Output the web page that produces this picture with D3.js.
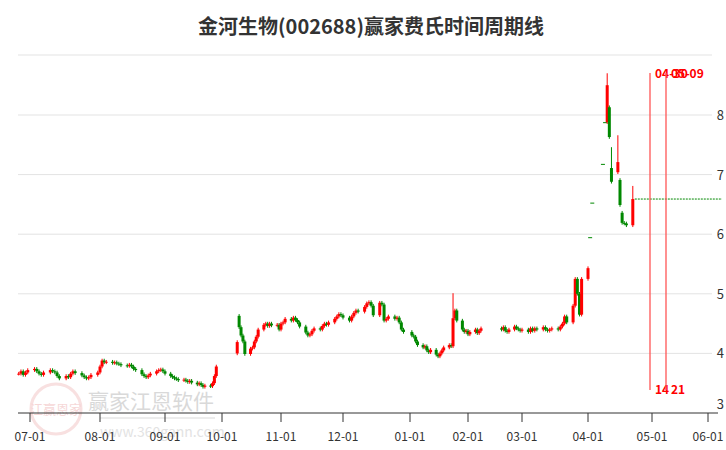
<!DOCTYPE html>
<html><head><meta charset="utf-8">
<script src="https://cdn.jsdelivr.net/npm/d3@7"></script>
<style>body{margin:0;background:#fff;font-family:"Noto Sans CJK SC","DejaVu Sans",sans-serif}</style>
</head><body>
<script>
// closes per month (trading days)
var closeJun = [3.66,3.70,3.64,3.68,3.72];
var closeJul = [3.74,3.70,3.66,3.64,3.68,3.72,3.70,3.68,3.62,3.58,3.62,3.60,3.66,3.70,3.67,3.63,3.60,3.58,3.60,3.64,3.68];
var closeAug = [3.78,3.88,3.85,3.86,3.84,3.85,3.83,3.82,3.80,3.79,3.81,3.78,3.74,3.72,3.65,3.62,3.60,3.63,3.66,3.70,3.72,3.73,3.70];
var closeSep = [3.66,3.62,3.60,3.58,3.57,3.55,3.56,3.54,3.52,3.54,3.51,3.48,3.50,3.47,3.44,3.46,3.45,3.50,3.62,3.78];
var closeOct = [4.19,4.44,4.30,4.20,3.99,4.08,4.10,4.20,4.28,4.40,4.48,4.50,4.46,4.50,4.47,4.48,4.40];
var closeNov = [4.50,4.52,4.58,4.55,4.60,4.56,4.52,4.45,4.35,4.30,4.32,4.38,4.42,4.40,4.46,4.50,4.48,4.52,4.58,4.62,4.66,4.64];
var closeDec = [4.60,4.55,4.62,4.68,4.72,4.70,4.78,4.84,4.86,4.80,4.64,4.85,4.82,4.55,4.58,4.62,4.58,4.60,4.52,4.40,4.36];
var closeJan = [4.30,4.28,4.20,4.14,4.10,4.12,4.05,4.02,4.06,3.98,3.95,4.00,4.05,4.10,4.14,4.12,4.59,4.72,4.55,4.40,4.36,4.38];
var closeFeb = [4.32,4.36,4.40,4.34,4.38,4.42,4.40,4.44,4.38,4.36,4.40,4.45,4.42,4.40,4.38];
var closeMar = [4.40,4.36,4.42,4.38,4.42,4.40,4.44,4.40,4.38,4.40,4.42,4.40,4.45,4.50,4.62,4.52,4.80,5.25,5.00,4.65,5.25];
var closeApr = [5.43,5.95,6.53,7.18,7.88,8.50,7.63,6.88,7.21,6.49,6.19,6.18,6.15,6.59];

var openOverride = {'2023-10-09':4.00,'2023-10-10':4.63,'2024-01-23':4.14,'2024-04-10':7.88,'2024-04-11':8.13,
  '2024-04-12':7.11,'2024-04-15':7.04,'2024-04-16':6.91,'2024-04-17':6.36,'2024-04-22':6.15};
var highOverride = {'2024-01-24':5.01,'2024-04-10':8.70,'2024-04-12':7.46,'2024-04-15':7.66,'2024-04-22':6.81,'2024-03-26':5.28};
var flatDays = ['2024-04-02','2024-04-03','2024-04-08','2024-04-09'];
var holidays = ['2023-09-29','2023-10-02','2023-10-03','2023-10-04','2023-10-05','2023-10-06','2024-01-01',
  '2024-02-09','2024-02-12','2024-02-13','2024-02-14','2024-02-15','2024-02-16','2024-04-04','2024-04-05'];

var tickLabels = ['07-01','08-01','09-01','10-01','11-01','12-01','01-01','02-01','03-01','04-01','05-01','06-01'];
var tickDates = ['2023-07-01','2023-08-01','2023-09-01','2023-10-01','2023-11-01','2023-12-01','2024-01-01','2024-02-01','2024-03-01','2024-04-01','2024-05-01','2024-06-01'];
var tickPx = [30,100,165,222,281,343,410,468,522,588,652,708];
var yTicks = [3,4,5,6,7,8];
var cycleDates = ['2024-04-30','2024-05-09'];
var cycleTop = ['04-30','05-09'];
var cycleBottom = ['14','21'];

var fmt = d3.timeFormat('%Y-%m-%d'), parse = d3.timeParse('%Y-%m-%d');
var closes = [].concat(closeJun,closeJul,closeAug,closeSep,closeOct,closeNov,closeDec,closeJan,closeFeb,closeMar,closeApr);
var days = d3.timeDay.range(parse('2023-06-26'), parse('2024-04-23'))
  .filter(function(d){ return d.getDay()>0 && d.getDay()<6 && holidays.indexOf(fmt(d))<0; });
var data = closes.map(function(c,i){
  var k = fmt(days[i]);
  var o = k in openOverride ? openOverride[k] : (i ? closes[i-1] : c);
  var flat = flatDays.indexOf(k)>=0;
  if (flat) o = c;
  return {date:days[i], o:o, c:c, flat:flat,
    h: flat ? c : (highOverride[k] || Math.max(o,c)+0.03),
    l: flat ? c : Math.min(o,c)-0.03};
});

var W = 726, H = 450;
var svg = d3.select('body').append('svg').attr('width',W).attr('height',H);
var x = d3.scaleTime().domain(tickDates.map(parse)).range(tickPx).clamp(false);
var y = d3.scaleLinear().domain([3,8]).range([413,115]);

svg.append('text').attr('x',371).attr('y',34).attr('text-anchor','middle')
  .attr('font-size',20).attr('font-weight','bold').attr('fill','#333').text('金河生物(002688)赢家费氏时间周期线');

// grid
svg.selectAll('.grid').data(yTicks.slice(1)).enter().append('line')
  .attr('x1',18).attr('x2',712).attr('y1',y).attr('y2',y).attr('stroke','#e3e3e3');
svg.append('line').attr('x1',18).attr('x2',712).attr('y1',55).attr('y2',55).attr('stroke','#e3e3e3');
svg.selectAll('.yl').data(yTicks).enter().append('text')
  .attr('x',724).attr('y',function(d){return y(d)+(d==3?-4:5);}).attr('text-anchor','end')
  .attr('font-size',13).attr('fill','#333').text(function(d){return d;});

// watermark
var wm = svg.append('g').attr('opacity',0.55);
wm.append('circle').attr('cx',56).attr('cy',409).attr('r',25).attr('fill','none').attr('stroke','#f3c7c7').attr('stroke-width',3);
wm.append('text').attr('x',56).attr('y',414).attr('text-anchor','middle').attr('font-size',13).attr('fill','#f0b8b8').text('江赢恩家');
wm.append('text').attr('x',88).attr('y',409).attr('font-size',21).attr('fill','#bbb').text('赢家江恩软件');
wm.append('text').attr('x',100).attr('y',437).attr('font-size',14).attr('fill','#ccc').text('www.360gann.com');
wm.append('line').attr('x1',100).attr('x2',215).attr('y1',418).attr('y2',418).attr('stroke','#ddd').attr('stroke-width',2);

// x axis
svg.append('line').attr('x1',18).attr('x2',718).attr('y1',413).attr('y2',413).attr('stroke','#333');
var ticks = svg.selectAll('.xt').data(tickDates).enter().append('g')
  .attr('transform',function(d){return 'translate('+Math.round(x(parse(d)))+',0)';});
ticks.append('line').attr('y1',413).attr('y2',422).attr('stroke','#333');
ticks.append('text').attr('y',441).attr('text-anchor','middle').attr('font-size',12).attr('fill','#333')
  .text(function(d,i){return tickLabels[i];});

// candles
var col = function(d){ return d.c>=d.o ? '#f00' : '#080'; };
var cg = svg.selectAll('.c').data(data).enter().append('g');
cg.append('line').attr('x1',function(d){return x(d.date);}).attr('x2',function(d){return x(d.date);})
  .attr('y1',function(d){return y(d.h);}).attr('y2',function(d){return y(d.l);}).attr('stroke',col);
cg.append('rect').attr('x',function(d){return x(d.date)-(d.flat?2:1.5);}).attr('width',function(d){return d.flat?4:3;})
  .attr('y',function(d){return y(Math.max(d.o,d.c));})
  .attr('height',function(d){return Math.max(1,y(Math.min(d.o,d.c))-y(Math.max(d.o,d.c)));})
  .attr('fill',function(d){return d.flat?'#080':col(d);});

// last close line
var last = data[data.length-1];
svg.append('line').attr('x1',x(last.date)+2).attr('x2',722).attr('y1',y(last.c)).attr('y2',y(last.c))
  .attr('stroke','#080').attr('stroke-dasharray','2,1');

// cycle lines
cycleDates.forEach(function(d,i){
  var cx = Math.round(x(parse(d)));
  svg.append('line').attr('x1',cx).attr('x2',cx).attr('y1',73).attr('y2',390).attr('stroke','#f55').attr('stroke-width',1.3);
  svg.append('text').attr('x',cx+5).attr('y',78).attr('font-size',12).attr('font-weight','bold').attr('fill','#f00').text(cycleTop[i]);
  svg.append('text').attr('x',cx+5).attr('y',394).attr('font-size',12).attr('font-weight','bold').attr('fill','#f00').text(cycleBottom[i]);
});
</script>
</body></html>
